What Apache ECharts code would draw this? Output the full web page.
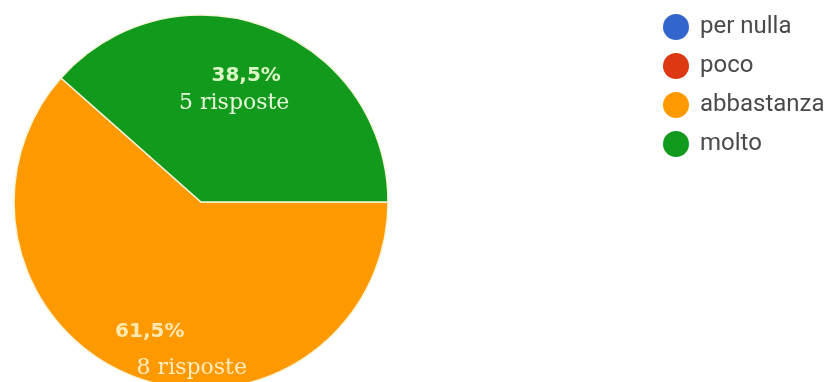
<!DOCTYPE html>
<html>
<head>
<meta charset="utf-8">
<script src="https://cdn.jsdelivr.net/npm/echarts@6/dist/echarts.min.js"></script>
<style>html,body{margin:0;padding:0;background:#fff}#c{width:832px;height:382px}</style>
</head>
<body>
<div id="c"></div>
<script>
const categories = ['per nulla', 'poco', 'abbastanza', 'molto'];
const counts = [0, 0, 8, 5];
const colors = ['#3366cc', '#dc3912', '#ff9900', '#129a1c'];
const unitLabel = 'risposte';

const total = counts.reduce((a, b) => a + b, 0);
const fmtPct = v => (v / total * 100).toFixed(1).replace('.', ',') + '%';

const labelLayouts = {
  'abbastanza': { offset: [25, 58], pPad: [0, 84, 0, 0], lh: 37, cp: '#ffe9b0', cr: '#ffedc0' },
  'molto': { offset: [-1, -22], pPad: [0, 0, 0, 24], lh: 27, cp: '#dcf5c6', cr: '#e8f7dc' }
};

const data = categories.map((name, i) => {
  const item = { name: name, value: counts[i], itemStyle: { color: colors[i] } };
  const L = labelLayouts[name];
  if (counts[i] > 0 && L) {
    item.label = {
      show: true,
      position: 'inside',
      offset: L.offset,
      formatter: p => '{p|' + fmtPct(p.value) + '}\n{r|' + p.value + ' ' + unitLabel + '}',
      rich: {
        p: { fontFamily: 'DejaVu Sans', fontWeight: 'bold', fontSize: 20, color: L.cp, padding: L.pPad, lineHeight: L.lh, align: 'center' },
        r: { fontFamily: 'DejaVu Serif', fontSize: 22, color: L.cr, lineHeight: L.lh, align: 'center' }
      }
    };
  } else {
    item.label = { show: false };
  }
  return item;
});

const chart = echarts.init(document.getElementById('c'), null, { renderer: 'canvas' });
chart.setOption({
  animation: false,
  backgroundColor: '#ffffff',
  legend: {
    orient: 'vertical',
    left: 663,
    top: 14,
    padding: 0,
    icon: 'circle',
    itemWidth: 26,
    itemHeight: 26,
    itemGap: 13,
    itemStyle: { borderWidth: 0 },
    data: categories,
    textStyle: { fontFamily: 'Roboto', fontSize: 24, color: '#4a4a4a', padding: [0, 0, 0, 6] }
  },
  series: [{
    type: 'pie',
    center: [201, 202],
    radius: 187,
    startAngle: 0,
    clockwise: true,
    silent: true,
    labelLine: { show: false },
    itemStyle: { borderColor: '#f5f5d8', borderWidth: 1.5 },
    data: data
  }]
});
</script>
</body>
</html>
